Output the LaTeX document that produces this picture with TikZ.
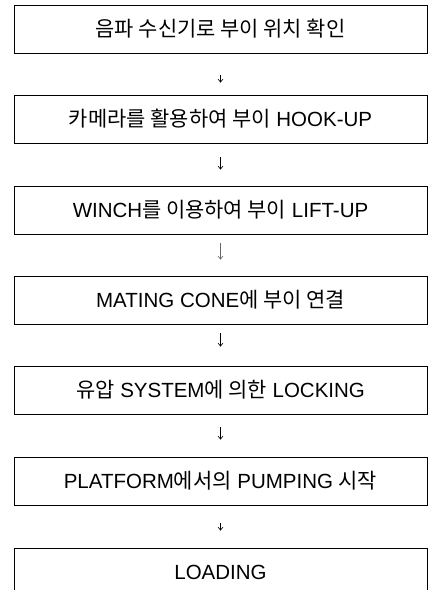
\documentclass[tikz,border=0pt]{standalone}
\usepackage{fontspec}
\setmainfont{Liberation Sans}
\newfontfamily\kr[Scale=1.02]{Noto Sans CJK KR}
\usetikzlibrary{arrows.meta}
\begin{document}
\begin{tikzpicture}[x=1pt,y=-1pt,
  stepbox/.style={draw=black,line width=0.9pt,minimum width=413pt,minimum height=48pt,
    inner sep=0pt,font=\fontsize{20.5}{23}\selectfont,text=black},
  flow/.style={-{Straight Barb[length=3pt,width=5pt]},line width=0.6pt,black}]
\useasboundingbox (0,0) rectangle (431,590);
\clip (0,0) rectangle (431,590);
\node[stepbox] (b1) at (220.5,29)  {{\kr 음파 수신기로 부이 위치 확인}};
\node[stepbox] (b2) at (220.5,119) {{\kr 카메라를 활용하여 부이} HOOK-UP};
\node[stepbox] (b3) at (220.5,210) {WINCH{\kr 를 이용하여 부이} LIFT-UP};
\node[stepbox] (b4) at (220.5,300) {MATING CONE{\kr 에 부이 연결}};
\node[stepbox] (b5) at (220.5,390) {{\kr 유압} SYSTEM{\kr 에 의한} LOCKING};
\node[stepbox] (b6) at (220.5,481) {PLATFORM{\kr 에서의} PUMPING {\kr 시작}};
\node[stepbox] (b7) at (220.5,572) {LOADING};
\draw[flow,shorten <=22pt,shorten >=12pt] (b1.south) -- (b2.north);
\draw[flow,shorten <=14pt,shorten >=16pt] (b2.south) -- (b3.north);
\draw[flow,shorten <=9pt,shorten >=16pt,black!60] (b3.south) -- (b4.north);
\draw[flow,shorten <=9pt,shorten >=19pt] (b4.south) -- (b5.north);
\draw[flow,shorten <=13pt,shorten >=17pt] (b5.south) -- (b6.north);
\draw[flow,shorten <=18pt,shorten >=17pt] (b6.south) -- (b7.north);
\end{tikzpicture}
\end{document}
